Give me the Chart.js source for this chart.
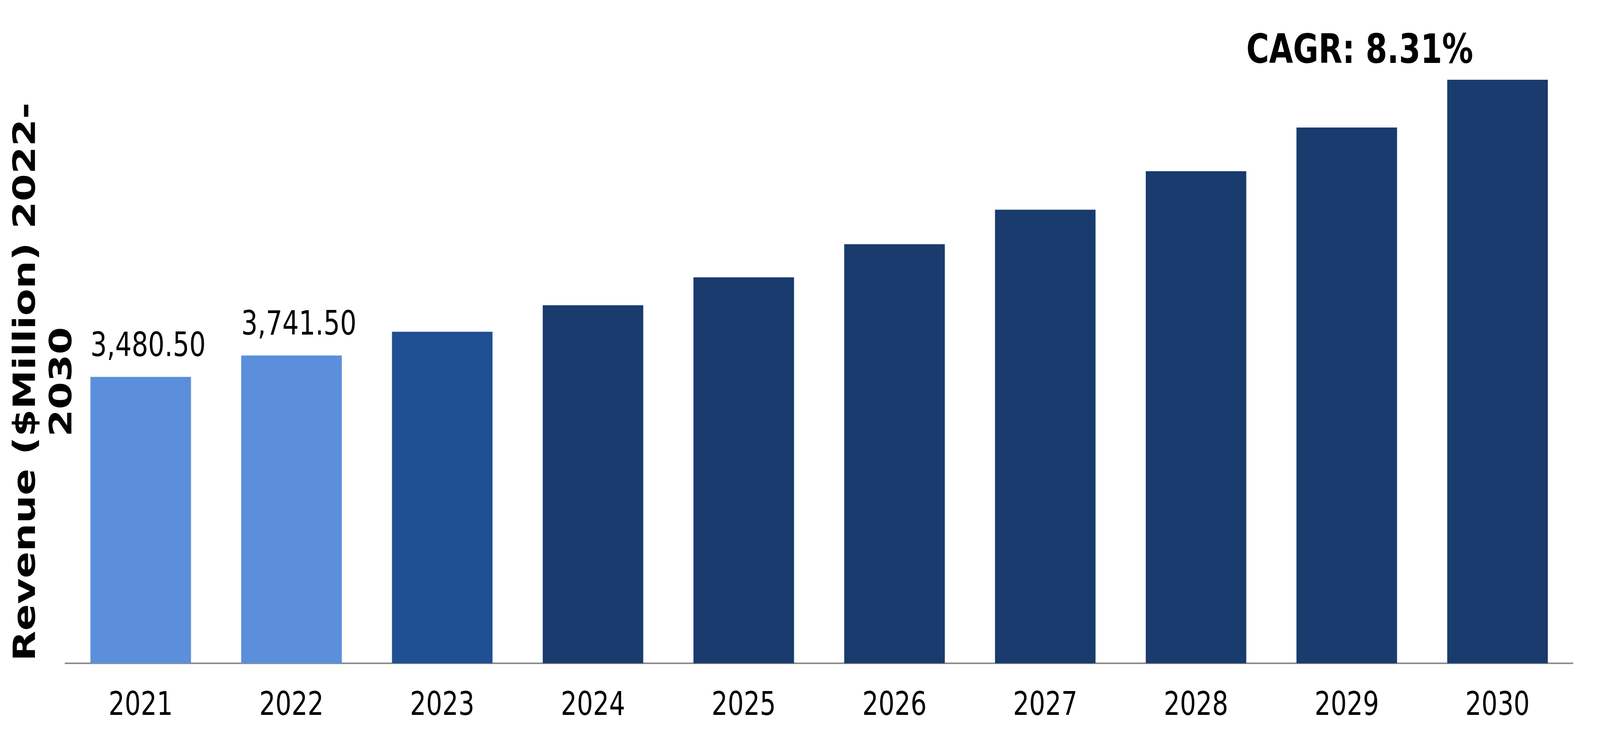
<!DOCTYPE html>
<html>
<head>
<meta charset="utf-8">
<title>Revenue 2021-2030</title>
<script src="https://cdn.jsdelivr.net/npm/chart.js@4.4.1/dist/chart.umd.min.js"></script>
<style>
  html, body { margin: 0; padding: 0; background: #fff; overflow: hidden; }
  #wrap { width: 5314px; height: 1883px; position: relative; transform-origin: 0 0; }
</style>
</head>
<body>
<div id="wrap"><canvas id="revChart"></canvas></div>
<script>
// values
const years = ['2021', '2022', '2023', '2024', '2025', '2026', '2027', '2028', '2029', '2030'];
const revenue = [3480.5, 3741.5, 4030, 4352, 4691, 5094, 5513, 5981, 6512, 7093];
const labelledYears = ['2021', '2022'];
const axisTitle = ['Revenue ($Million) 2022-', '2030'];
const cagrText = 'CAGR: 8.31%';

const FONT = "'DejaVu Sans', Verdana, sans-serif";

// chart is laid out at 5314 x 1883 and then fitted to the window
const wrap = document.getElementById('wrap');
wrap.style.transform = 'scale(' + (window.innerWidth / 5314) + ',' + (window.innerHeight / 1883) + ')';

function barColor(ctx) {
  const y = years[ctx.dataIndex];
  if (labelledYears.includes(y)) return '#5b8fdb';
  if (y === '2023') return '#1f5094';
  return '#193b6d';
}

// value labels, CAGR note and the y title
const textPlugin = {
  id: 'texts',
  afterDatasetsDraw(chart) {
    const ctx = chart.ctx;
    const bars = chart.getDatasetMeta(0).data;
    ctx.save();
    ctx.fillStyle = '#000';

    ctx.font = '86px ' + FONT;
    ctx.textAlign = 'left';
    ctx.textBaseline = 'alphabetic';
    years.forEach(function (y, i) {
      if (!labelledYears.includes(y)) return;
      const b = bars[i];
      const txt = revenue[i].toLocaleString('en-US', { minimumFractionDigits: 2, maximumFractionDigits: 2 });
      ctx.fillText(txt, b.x - b.width / 2, b.y - 53);
    });

    // CAGR between the last two bars
    const last = bars[bars.length - 1];
    const prev = bars[bars.length - 2];
    ctx.font = 'bold 103px ' + FONT;
    ctx.textAlign = 'center';
    ctx.fillText(cagrText, prev.x + (last.x - prev.x) * 0.086, last.y - 43);

    // y title, two lines centred on the same point
    ctx.translate(0, 977);
    ctx.rotate(-Math.PI / 2);
    ctx.font = 'bold 101px ' + FONT;
    ctx.textAlign = 'center';
    ctx.fillText(axisTitle[0], 0, 116);
    ctx.fillText(axisTitle[1], 0, 237);
    ctx.restore();
  }
};

new Chart(document.getElementById('revChart'), {
  type: 'bar',
  data: {
    labels: years,
    datasets: [{
      label: 'Revenue',
      data: revenue,
      backgroundColor: barColor,
      borderWidth: 0,
      categoryPercentage: 1,
      barPercentage: 0.667
    }]
  },
  options: {
    responsive: true,
    maintainAspectRatio: false,
    animation: false,
    layout: { padding: { left: 217, right: 90, top: 13, bottom: 0 } },
    plugins: {
      legend: { display: false },
      tooltip: { enabled: false }
    },
    scales: {
      x: {
        grid: { display: false, drawTicks: false },
        border: { display: true, color: '#8c8c8c', width: 4 },
        ticks: { color: '#000', padding: 60, font: { family: FONT, size: 84 } },
        afterFit(scale) { scale.height = 186; }
      },
      y: {
        display: false,
        min: 0,
        max: 8000
      }
    }
  },
  plugins: [textPlugin]
});
</script>
</body>
</html>
